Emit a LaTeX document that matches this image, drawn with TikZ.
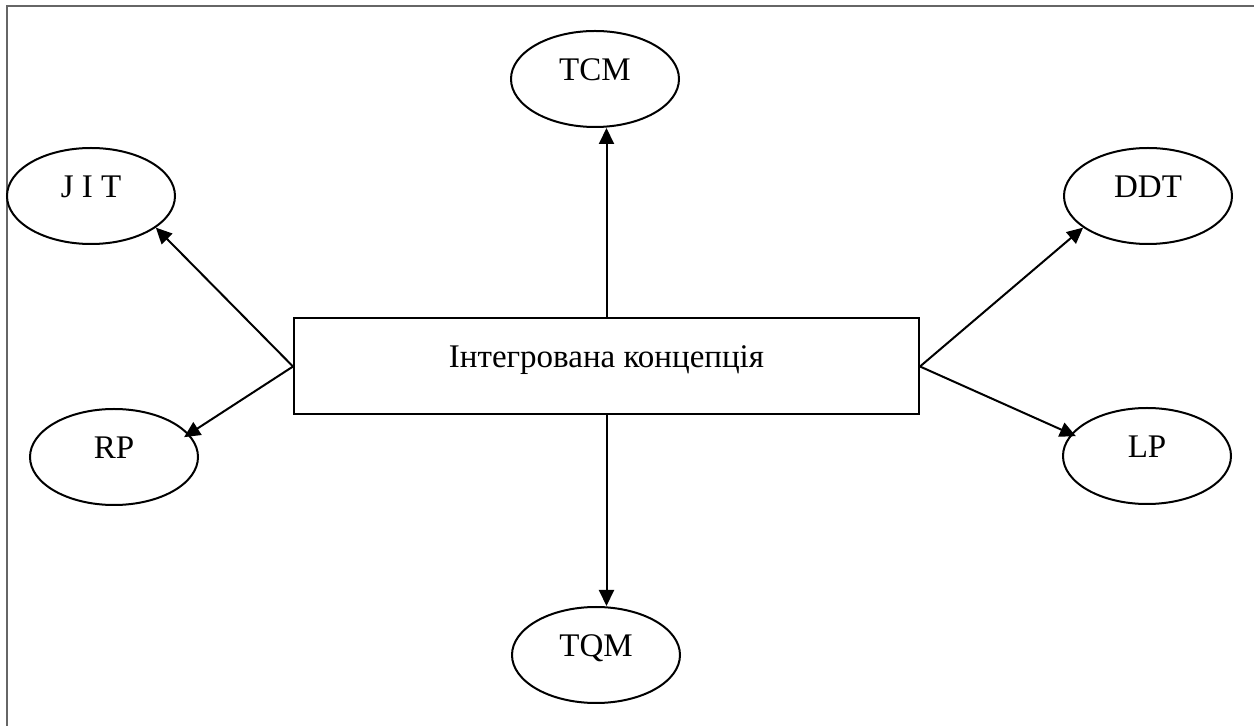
\documentclass[tikz,border=0pt]{standalone}
\usepackage{fontspec}
\setmainfont{Liberation Serif}
\usetikzlibrary{arrows.meta,shapes.geometric}
\begin{document}
\begin{tikzpicture}[x=0.5pt,y=-0.5pt,
  every node/.style={font=\fontsize{16.5}{19}\selectfont},
  oval/.style={draw,line width=1pt,ellipse,inner sep=0pt,minimum width=84pt,minimum height=48pt,text height=11pt,text depth=9pt},
  mainbox/.style={draw,line width=1pt,rectangle,inner sep=0pt,minimum width=312.5pt,minimum height=48pt,text height=11pt,text depth=9.5pt},
  arr/.style={line width=1pt,-{Triangle[length=8pt,width=7.5pt]}},
  frame/.style={draw=black!60,line width=1pt}]
\useasboundingbox (0,0) rectangle (1254,726);
\coordinate (fb) at (7,726);
\coordinate (fc) at (7,6.5);
\coordinate (fr) at (1254,6.5);
\draw[frame] (fb) -- (fc) -- (fr);
\node[mainbox] (box) at (606.5,366.5) {Інтегрована концепція};
\node[oval] (tcm) at (595,79) {TCM};
\node[oval] (tqm) at (596,655) {TQM};
\node[oval] (jit) at (91,196) {J I T};
\node[oval] (ddt) at (1148,196) {DDT};
\node[oval] (rp) at (114,457) {RP};
\node[oval] (lp) at (1147,456) {LP};
\draw[arr] (box.north) -- (box.north |- tcm.south);
\draw[arr] (box.south) -- (box.south |- tqm.north);
\draw[arr] (box.west) -- (jit.-26);
\draw[arr] (box.west) -- ([shift={(-6,2)}]rp.16);
\draw[arr] (box.east) -- (ddt.-154);
\draw[arr] (box.east) -- ([shift={(5,2)}]lp.164);
\end{tikzpicture}
\end{document}
